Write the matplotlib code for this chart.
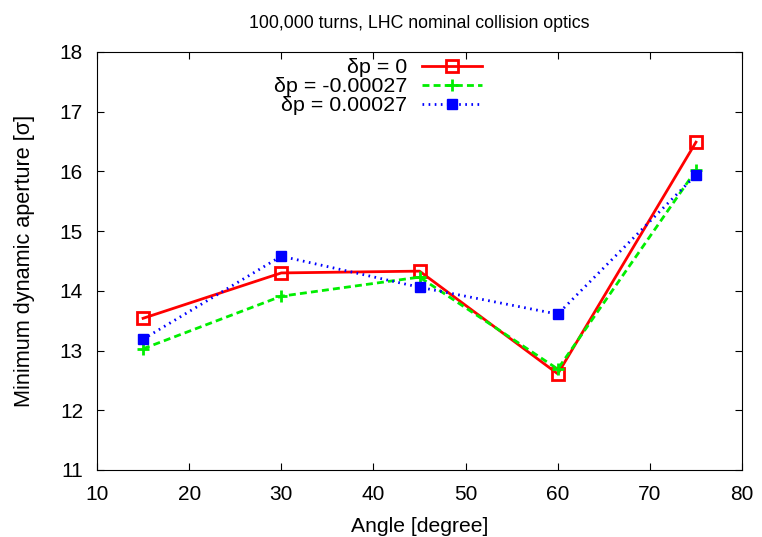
import numpy as np
import matplotlib.pyplot as plt

plt.rcParams['font.family'] = ['Liberation Sans', 'DejaVu Sans']

angle = [15, 30, 45, 60, 75]
da_dp0 = [13.54, 14.30, 14.33, 12.61, 16.49]
da_dpm = [13.03, 13.91, 14.23, 12.69, 16.02]
da_dpp = [13.19, 14.58, 14.06, 13.61, 15.94]

labels = ['δp = 0', 'δp = -0.00027', 'δp = 0.00027']

fig = plt.figure(figsize=(7.62, 5.37), dpi=100)
ax = fig.add_axes([0.1273, 0.1248, 0.8465, 0.7784])

ax.plot(angle, da_dp0, color='#ff0000', lw=2, ls='-', marker='s', ms=8,
        mfc='none', mec='#ff0000', mew=2, label=labels[0])
ax.plot(angle, da_dpm, color='#00ee00', lw=2, ls=(0, (2.5, 1.5)), marker='+', ms=9,
        mew=2, label=labels[1])
ax.plot(angle, da_dpp, color='#0000ff', lw=2, ls=(0, (0.6, 1.6)), marker='s', ms=7.5,
        mfc='#0000ff', mec='#0000ff', label=labels[2])

ax.set_xlim(10, 80)
ax.set_ylim(11, 18)
ax.set_xticks(np.arange(10, 81, 10))
ax.set_yticks(np.arange(11, 19, 1))
ax.tick_params(direction='in', top=True, right=True, length=5, labelsize=15)
ax.tick_params(axis='x', pad=11)
ax.tick_params(axis='y', pad=10)
ax.set_xlabel('Angle [degree]', fontsize=15.2, labelpad=9)
ax.set_ylabel('Minimum dynamic aperture [σ]', fontsize=15.6, labelpad=18)
ax.set_title('100,000 turns, LHC nominal collision optics', fontsize=12.8, pad=17)

leg = ax.legend(loc='upper right', bbox_to_anchor=(0.597, 0.985), frameon=False,
                markerfirst=False, numpoints=1, handlelength=2.8, fontsize=15.4,
                labelspacing=0.0, borderaxespad=0, borderpad=0, handletextpad=0.7)
for t in leg.get_texts():
    t.set_ha('right')

fig.savefig('out.png', dpi=100)
